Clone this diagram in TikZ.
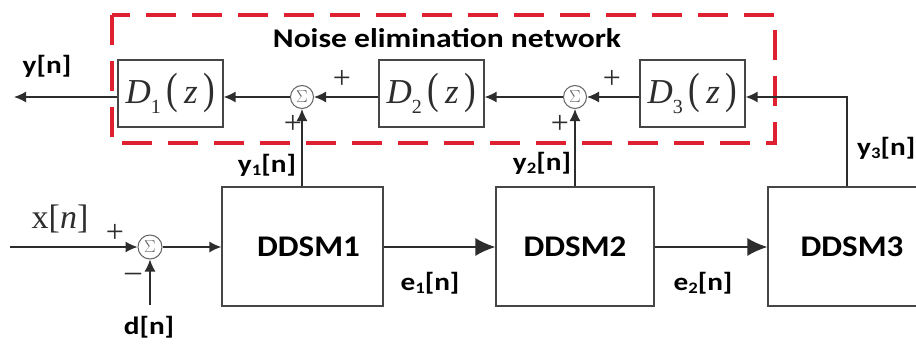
\documentclass[tikz,border=0pt]{standalone}
\usepackage{fontspec}
\setmainfont{Liberation Serif}
\newfontfamily\lblfont{Carlito}
\usetikzlibrary{arrows.meta}
\definecolor{boxgray}{RGB}{70,70,70}
\definecolor{linegray}{RGB}{45,45,45}
\definecolor{sumgray}{RGB}{100,100,100}
\definecolor{netred}{RGB}{222,32,48}
\definecolor{txtgray}{RGB}{45,45,45}
\newcommand{\Dz}[1]{\textit{D}\raisebox{-0.28em}{\fontsize{20}{20}\selectfont #1}\,\scalebox{1}[1.25]{(}\,\textit{z}\,\scalebox{1}[1.25]{)}}
\newcommand{\subn}[2]{#1\raisebox{-0.12em}{\fontsize{16}{16}\selectfont #2}[n]}
\newcommand{\wide}[1]{\scalebox{1.17}[1]{#1}}
\newcommand{\wideb}[1]{\scalebox{1.1}[1]{#1}}
\begin{document}
\begin{tikzpicture}[x=1pt,y=-1pt,
  dbox/.style={draw=boxgray, line width=1.3pt, inner sep=0pt, minimum width=105pt, minimum height=67pt,
    text=txtgray, font=\fontsize{35}{35}\selectfont},
  ddsm/.style={draw=boxgray, line width=1.3pt, inner sep=0pt, minimum height=119pt,
    font=\lblfont\bfseries\fontsize{30}{30}\selectfont, text=black},
  sumnode/.style={circle, draw=sumgray, line width=1pt, minimum size=23pt, inner sep=0pt,
    text=sumgray, font=\fontsize{18}{18}\selectfont},
  sig/.style={draw=linegray, line width=1.4pt},
  arr/.style={sig, -{Latex[length=12pt,width=11pt]}},
  bigarr/.style={sig, -{Latex[length=20pt,width=18pt]}},
  lbl/.style={font=\lblfont\bfseries\fontsize{25}{25}\selectfont, text=black, inner sep=0pt},
  pm/.style={font=\fontsize{32}{32}\selectfont, text=txtgray, inner sep=0pt},
  netbox/.style={draw=netred, line width=4pt, dash pattern=on 30pt off 16pt}
]
\clip (0,0) rectangle (916,348);
\fill[white] (0,0) rectangle (916,348);

% noise elimination network frame
\draw[netbox] (112,15) rectangle (775,143);
\node[lbl, font=\lblfont\bfseries\fontsize{27}{27}\selectfont] (title) at (447,38) {\wide{Noise elimination network}};

% top row
\node[dbox] (D1) at (170.5,93.5) {\Dz{1}};
\node[dbox] (D2) at (431.5,93.5) {\Dz{2}};
\node[dbox] (D3) at (692.5,93.5) {\Dz{3}};
\node[sumnode] (s1) at (302,97) {$\Sigma$};
\node[sumnode] (s2) at (575,97) {$\Sigma$};
\coordinate (yout) at (14,97);

% bottom row
\node[ddsm, minimum width=161pt] (M1) at (302.5,246.5) {\hspace*{12pt}\wideb{DDSM1}};
\node[ddsm, minimum width=158pt] (M2) at (575,246.5) {\wideb{DDSM2}};
\node[ddsm, minimum width=168pt] (M3) at (852,246.5) {\wideb{DDSM3}};
\node[sumnode, minimum size=24pt] (s0) at (150,247) {$\Sigma$};
\coordinate (xin) at (10,247);
\coordinate (din) at (150,305);
\coordinate (y3up) at (847,97);

% connectors bottom
\draw[arr] (xin) -- (s0.west);
\draw[arr] (s0.east) -- (M1.west |- s0.east);
\draw[arr] (din) -- (s0.south);
\draw[bigarr] (M1.east |- s0.east) -- (M2.west |- s0.east);
\draw[bigarr] (M2.east |- s0.east) -- (M3.west |- s0.east);

% connectors up
\draw[arr] (M1.north -| s1.south) -- (s1.south);
\draw[arr] (M2.north -| s2.south) -- (s2.south);
\draw[arr] (M3.north -| y3up) -- (y3up) -- (D3.east |- y3up);
\draw[arr] (D3.west |- s2.east) -- (s2.east);
\draw[arr] (s2.west) -- (D2.east |- s2.west);
\draw[arr] (D2.west |- s1.east) -- (s1.east);
\draw[arr] (s1.west) -- (D1.east |- s1.west);
\draw[arr] (D1.west |- yout) -- (yout);

% labels
\node[lbl] (ly) at (47,66) {\wide{y[n]}};
\node[lbl] (ly1) at (267,165) {\wide{\subn{y}{1}}};
\node[lbl] (ly2) at (542,163) {\wide{\subn{y}{2}}};
\node[lbl, anchor=west] (ly3) at (857,148) {\wide{\subn{y}{3}}};
\node[lbl] (le1) at (430,283) {\wide{\subn{e}{1}}};
\node[lbl] (le2) at (703,283) {\wide{\subn{e}{2}}};
\node[lbl] (ld) at (149,327) {\wide{d[n]}};
\node[inner sep=0pt, text=txtgray, font=\fontsize{34}{34}\selectfont] (lx) at (60,219) {x[\textit{n}]};

% signs
\node[pm] (p0) at (115,233) {+};
\node[pm] (m0) at (133,277) {\textendash};
\node[pm] (p1a) at (342,79) {+};
\node[pm] (p1b) at (293,124) {+};
\node[pm] (p2a) at (612,79) {+};
\node[pm] (p2b) at (560,124) {+};
\end{tikzpicture}
\end{document}
